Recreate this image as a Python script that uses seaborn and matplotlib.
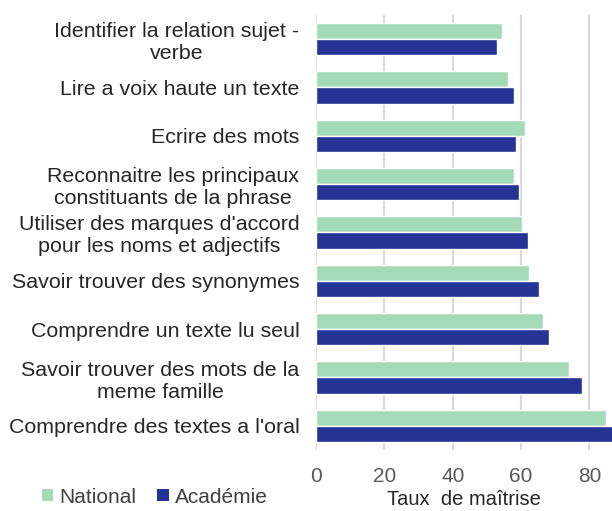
"""
Taux de maîtrise par compétence : National vs Académie
"""

import pandas as pd
import matplotlib

matplotlib.use("Agg")
import matplotlib.pyplot as plt
import seaborn as sns
from matplotlib.patches import Patch

# Données
competences = [
    "Identifier la relation sujet -\nverbe",
    "Lire a voix haute un texte",
    "Ecrire des mots",
    "Reconnaitre les principaux\nconstituants de la phrase",
    "Utiliser des marques d'accord\npour les noms et adjectifs",
    "Savoir trouver des synonymes",
    "Comprendre un texte lu seul",
    "Savoir trouver des mots de la\nmeme famille",
    "Comprendre des textes a l'oral",
]
national = [54.4, 56.3, 61.2, 57.8, 60.4, 62.3, 66.5, 73.9, 84.9]
academie = [53.0, 57.8, 58.5, 59.3, 61.9, 65.1, 68.3, 77.7, 88.0]
series = ["National", "Académie"]

COULEURS = {"National": "#A3DBB8", "Académie": "#253494"}

df = pd.DataFrame(
    {
        "Compétence": competences * 2,
        "Taux": national + academie,
        "Série": [series[0]] * len(competences) + [series[1]] * len(competences),
    }
)

sns.set_style("white")
plt.rcParams["font.family"] = ["Liberation Sans", "DejaVu Sans"]

fig = plt.figure(figsize=(6.12, 5.11), dpi=100)
ax = fig.add_axes([316 / 612, 1 - 450 / 511, 1 - 316 / 612, 435 / 511])

sns.barplot(
    data=df,
    x="Taux",
    y="Compétence",
    hue="Série",
    palette=COULEURS,
    order=competences,
    hue_order=series,
    width=0.67,
    saturation=1,
    orient="h",
    legend=False,
    ax=ax,
)

ax.set_xlim(0, 86.6)
ax.set_ylim(8.5, -0.5)
ax.set_xticks([0, 20, 40, 60, 80])
ax.grid(axis="x", color="#d9d9d9", linewidth=1.5)
ax.set_axisbelow(True)
for s in ax.spines.values():
    s.set_visible(False)

ax.tick_params(axis="x", colors="#595959", labelsize=15, length=0, pad=12)
ax.tick_params(axis="y", length=0, pad=12)
for lab in ax.get_yticklabels():
    lab.set_fontsize(15.4)
    lab.set_color("#262626")
    lab.set_multialignment("center")

ax.set_ylabel("")
ax.set_xlabel("Taux  de maîtrise", fontsize=14.5, color="#262626", labelpad=3)

handles = [Patch(facecolor=COULEURS[s], edgecolor="none") for s in series]
fig.legend(
    handles,
    series,
    loc="center",
    bbox_to_anchor=(155 / 612, 1 - 497 / 511),
    ncol=2,
    frameon=False,
    fontsize=15,
    handlelength=0.55,
    handleheight=0.55,
    handletextpad=0.3,
    columnspacing=1.0,
    labelcolor="#404040",
)

plt.savefig("out.png", dpi=100)
